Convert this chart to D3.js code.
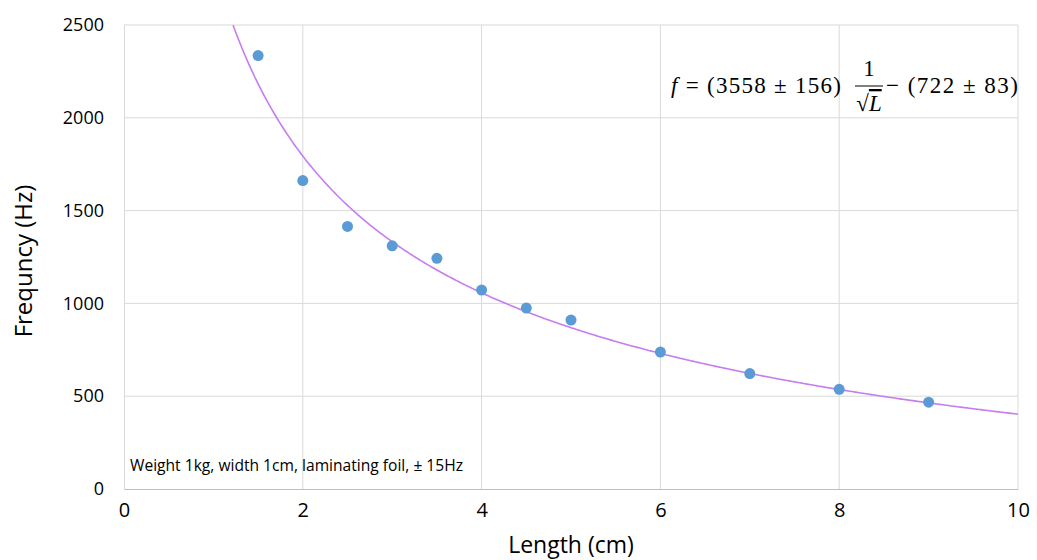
<!DOCTYPE html>
<html>
<head>
<meta charset="utf-8">
<script src="https://cdn.jsdelivr.net/npm/d3@7"></script>
<style>
  body { margin: 0; background: #fff; }
  text { font-family: "Open Sans", "Liberation Sans", sans-serif; fill: #000; }
</style>
</head>
<body>
<svg width="1037" height="560"></svg>
<script>
// measured points (length in cm, frequency in Hz)
const lengths = [1.5, 2, 2.5, 3, 3.5, 4, 4.5, 5, 6, 7, 8, 9];
const freqs = [2335, 1662, 1415, 1310, 1243, 1072, 975, 910, 738, 622, 537, 468];
// fit f = a / sqrt(L) - b
const fitA = 3558;
const fitB = 722;
const xTicks = [0, 2, 4, 6, 8, 10];
const yTicks = [0, 500, 1000, 1500, 2000, 2500];

const svg = d3.select("svg");
const plot = {left: 124, right: 1018, top: 25, bottom: 489};

const x = d3.scaleLinear().domain([0, 10]).range([plot.left, plot.right]);
const y = d3.scaleLinear().domain([0, 2500]).range([plot.bottom, plot.top]);

// gridlines
svg.append("g")
    .selectAll("line.v")
    .data(xTicks.slice(1))
    .enter().append("line")
        .attr("x1", d => x(d)).attr("x2", d => x(d))
        .attr("y1", plot.top).attr("y2", plot.bottom)
        .style("stroke", "#d9d9d9").style("stroke-width", "1px");
svg.append("g")
    .selectAll("line.h")
    .data(yTicks.slice(1))
    .enter().append("line")
        .attr("x1", plot.left).attr("x2", plot.right)
        .attr("y1", d => y(d)).attr("y2", d => y(d))
        .style("stroke", "#d9d9d9").style("stroke-width", "1px");

// axes
const xAxis = d3.axisBottom(x).tickValues(xTicks).tickSize(0).tickPadding(14);
const gx = svg.append("g")
    .attr("transform", "translate(0," + plot.bottom + ")")
    .call(xAxis);
gx.select(".domain").style("stroke", "#bfbfbf");
gx.selectAll("text").style("font-size", "20px");

const yAxis = d3.axisLeft(y).tickValues(yTicks).tickSize(0).tickPadding(20).tickFormat(d3.format("d"));
const gy = svg.append("g")
    .attr("transform", "translate(" + plot.left + ",0)")
    .call(yAxis);
gy.select(".domain").style("stroke", "#d9d9d9");
gy.selectAll("text").style("font-size", "18px");

// axis titles
svg.append("text")
    .attr("x", 571).attr("y", 553)
    .attr("text-anchor", "middle")
    .style("font-size", "23px")
    .text("Length (cm)");
svg.append("text")
    .attr("transform", "translate(32,261)rotate(-90)")
    .attr("text-anchor", "middle")
    .style("font-size", "24px")
    .text("Frequncy (Hz)");

// fit curve
const curveL = d3.range(1.2, 10.0001, 0.02).filter(L => fitA / Math.sqrt(L) - fitB <= 2500);
const line = d3.line()
    .x(L => x(L))
    .y(L => y(fitA / Math.sqrt(L) - fitB))
    .curve(d3.curveMonotoneX);
svg.append("path")
    .datum(curveL)
    .attr("d", line)
    .style("fill", "none")
    .style("stroke", "#c77cf0")
    .style("stroke-width", "1.6px");

// points
svg.append("g")
    .selectAll("circle")
    .data(lengths)
    .enter().append("circle")
        .attr("cx", d => x(d))
        .attr("cy", (d, i) => y(freqs[i]))
        .attr("r", 5.5)
        .style("fill", "#5b9bd5");

// note
svg.append("text")
    .attr("x", 130).attr("y", 471)
    .attr("textLength", 333).attr("lengthAdjust", "spacingAndGlyphs")
    .style("font-size", "17px")
    .text("Weight 1kg, width 1cm, laminating foil, \u00b1 15Hz");

// equation
const serif = "'Liberation Serif', 'DejaVu Serif', serif";
const eq = svg.append("g");
eq.append("text").attr("x", 671).attr("y", 93)
    .attr("textLength", 170).attr("lengthAdjust", "spacing")
    .style("font-family", serif).style("font-size", "23px")
    .html("<tspan font-style='italic'>f</tspan> = (3558 \u00b1 156)");
eq.append("text").attr("x", 869).attr("y", 76)
    .attr("text-anchor", "middle")
    .style("font-family", serif).style("font-size", "23px")
    .text("1");
eq.append("line")
    .attr("x1", 855).attr("x2", 883).attr("y1", 86).attr("y2", 86)
    .style("stroke", "#000").style("stroke-width", "1px");
eq.append("text").attr("x", 869).attr("y", 111)
    .attr("text-anchor", "middle")
    .style("font-family", serif).style("font-size", "23px")
    .html("\u221a<tspan font-style='italic' text-decoration='overline'>L</tspan>");
eq.append("text").attr("x", 886).attr("y", 93)
    .attr("textLength", 132).attr("lengthAdjust", "spacing")
    .style("font-family", serif).style("font-size", "23px")
    .text("\u2212 (722 \u00b1 83)");
</script>
</body>
</html>
